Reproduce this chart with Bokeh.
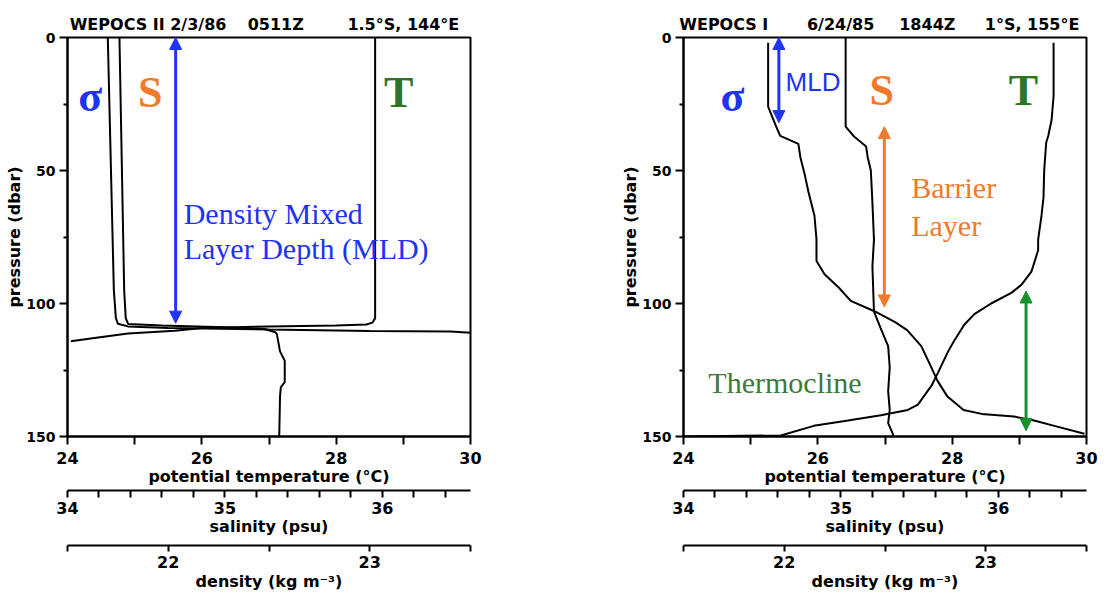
from bokeh.plotting import figure
from bokeh.models import Range1d, LinearAxis, FixedTicker, Label, Arrow, NormalHead, Title
from bokeh.layouts import row
from bokeh.embed import file_html
from bokeh.resources import INLINE

# ---------------- data: left panel (WEPOCS II 2/3/86) ----------------
L_T_temp = [28.58, 28.58, 28.58, 28.54, 28.45, 28.0, 27.0, 26.0, 25.6, 24.9, 24.4, 24.05]
L_T_pres = [0, 50, 105.5, 107.2, 107.9, 108.3, 108.6, 109.2, 110.2, 111.3, 113.0, 114.2]
L_S_sal = [34.33, 34.36, 34.37, 34.385, 34.6, 35.0, 35.25, 35.32, 35.33, 35.35, 35.38, 35.38, 35.355, 35.35, 35.345]
L_S_pres = [0, 95, 105.5, 107.7, 108.3, 108.9, 109.6, 110.8, 111.5, 118, 121.5, 129.5, 131.5, 135, 150]
L_D_dens = [21.70, 21.73, 21.74, 21.75, 21.80, 22.0, 22.5, 23.0, 23.4, 23.5]
L_D_pres = [0, 95, 105.5, 107.6, 108.6, 109.2, 109.8, 110.3, 110.5, 111.0]

# ---------------- data: right panel (WEPOCS I 6/24/85) ----------------
R_T_temp = [29.51, 29.51, 29.48, 29.43, 29.40, 29.37, 29.36, 29.33, 29.28, 29.28, 29.18, 29.03, 28.88,
            28.58, 28.33, 28.18, 28.03, 27.94, 27.79, 27.69, 27.49, 27.34, 26.94, 26.45, 25.94, 25.45, 24.0]
R_T_pres = [2, 22, 31, 37, 39.5, 50, 60, 67, 76, 80, 88, 93, 96,
            100, 104, 108, 114, 118, 126, 131, 138, 140, 142, 144, 146, 149.6, 150]
R_S_sal = [35.03, 35.03, 35.08, 35.16, 35.17, 35.19, 35.20, 35.21, 35.20, 35.21, 35.25, 35.30, 35.31,
           35.30, 35.31, 35.30, 35.33, 35.33]
R_S_pres = [0, 33.5, 37, 41, 45, 50, 62, 76, 86, 103, 109, 116, 124, 133, 140, 145, 149, 150]
R_D_dens = [21.92, 21.92, 21.96, 21.98, 22.07, 22.08, 22.10, 22.12, 22.15, 22.16, 22.16, 22.20, 22.27,
            22.33, 22.45, 22.55, 22.61, 22.68, 22.73, 22.76, 22.81, 22.89, 22.98, 23.14, 23.24, 23.34, 23.49]
R_D_pres = [2, 26, 33.5, 37, 40, 45, 51, 58, 67, 76, 84, 89, 94,
            99, 103, 107, 110, 116, 124, 129, 135, 140, 141.5, 142.5, 144, 146, 149]

# header texts (cruise, date, time, position)
L_HEADER = ["WEPOCS II 2/3/86", "0511Z", "1.5°S, 144°E"]
R_HEADER = ["WEPOCS I", "6/24/85", "1844Z", "1°S, 155°E"]
L_HEADER_AT = [25.2, 27.1, 29.0]
R_HEADER_AT = [24.6, 26.34, 27.63, 29.19]

# axis ranges / ticks
TEMP_RANGE = (24, 30)
SAL_RANGE = (34, 36.56)
DENS_RANGE = (21.5, 23.5)
PRES_RANGE = (150, 0)
TEMP_TICKS = [24, 26, 28, 30]
TEMP_MINOR = [25, 27, 29]
SAL_TICKS = [34, 35, 36]
SAL_MINOR = [34.2, 34.4, 34.6, 34.8, 35.2, 35.4, 35.6, 35.8, 36.2, 36.4]
DENS_TICKS = [22, 23]
DENS_MINOR = [21.5, 22.5, 23.5]
PRES_TICKS = [0, 50, 100, 150]
PRES_MINOR = [25, 75, 125]

BLUE = "#1f33f2"
ORANGE = "#f07a2a"
GREEN_T = "#2e7426"
GREEN_ARROW = "#17912a"
GREEN_TXT = "#3f7a38"
SANS = "DejaVu Sans"
SERIF = "Liberation Serif"


def style_axis(ax, tick_out, standoff, title_standoff):
    ax.axis_line_width = 2
    ax.axis_line_color = "black"
    ax.major_tick_out = tick_out
    ax.major_tick_in = 0
    ax.minor_tick_out = tick_out
    ax.minor_tick_in = 0
    ax.major_tick_line_width = 2
    ax.minor_tick_line_width = 2
    ax.major_label_standoff = standoff
    ax.major_label_text_font = SANS
    ax.major_label_text_font_style = "bold"
    ax.major_label_text_font_size = "16px"
    ax.major_label_text_color = "black"
    ax.axis_label_standoff = title_standoff
    ax.axis_label_text_font = SANS
    ax.axis_label_text_font_style = "bold"
    ax.axis_label_text_font_size = "16px"
    ax.axis_label_text_color = "black"


def spacer(size):
    # an invisible axis used only to leave a gap between the stacked scales
    sp = LinearAxis(ticker=FixedTicker(ticks=[27], minor_ticks=[]), axis_label=None)
    sp.axis_line_color = None
    sp.major_tick_line_alpha = 0
    sp.major_tick_out = size
    sp.major_tick_in = 0
    sp.minor_tick_out = 0
    sp.minor_tick_in = 0
    sp.major_label_standoff = 0
    sp.major_label_text_font_size = "1px"
    sp.major_label_text_alpha = 0
    return sp


def make_panel(border_left, border_right, header, header_at):
    p = figure(width=border_left + 403 + border_right, height=594,
               x_range=Range1d(*TEMP_RANGE), y_range=Range1d(*PRES_RANGE),
               output_backend="svg", toolbar_location=None,
               min_border_left=border_left, min_border_right=border_right,
               min_border_top=37, min_border_bottom=158)
    p.extra_x_ranges = {"sal": Range1d(*SAL_RANGE), "dens": Range1d(*DENS_RANGE)}
    p.xgrid.visible = False
    p.ygrid.visible = False
    p.outline_line_color = "black"
    p.outline_line_width = 2
    p.outline_line_alpha = 1
    p.background_fill_color = "white"
    p.border_fill_color = "white"

    xa = p.below[0]
    ya = p.left[0]

    # header line above the frame
    top = LinearAxis(ticker=FixedTicker(ticks=header_at),
                     major_label_overrides=dict(zip(header_at, header)))
    top.axis_line_color = None
    top.major_tick_line_color = None
    top.minor_tick_line_color = None
    top.major_tick_out = 0
    top.major_tick_in = 0
    top.major_label_standoff = 4
    top.major_label_text_font = SANS
    top.major_label_text_font_style = "bold"
    top.major_label_text_font_size = "16px"
    top.major_label_text_color = "black"
    p.add_layout(top, "above")

    xa.ticker = FixedTicker(ticks=TEMP_TICKS, minor_ticks=TEMP_MINOR)
    xa.axis_label = "potential temperature (°C)"
    style_axis(xa, 8, 7, 0)

    ya.ticker = FixedTicker(ticks=PRES_TICKS, minor_ticks=PRES_MINOR)
    style_axis(ya, 8, 4, 0)
    ya.minor_tick_out = 4
    ya.major_label_text_font_size = "14px"

    p.add_layout(spacer(2), "below")
    sa = LinearAxis(x_range_name="sal", axis_label="salinity (psu)",
                    ticker=FixedTicker(ticks=SAL_TICKS, minor_ticks=SAL_MINOR))
    style_axis(sa, 7, 4, 0)
    p.add_layout(sa, "below")
    p.add_layout(spacer(7), "below")
    da = LinearAxis(x_range_name="dens", axis_label="density (kg m⁻³)",
                    ticker=FixedTicker(ticks=DENS_TICKS, minor_ticks=DENS_MINOR))
    style_axis(da, 6, 4, 1)
    p.add_layout(da, "below")

    p.add_layout(Title(text="pressure (dbar)", align="center", offset=49, standoff=0,
                       text_font=SANS, text_font_style="bold", text_font_size="16px",
                       text_color="black"), "left")
    return p


def txt(p, x, y, s, color, font, size, style="normal", align="left"):
    p.add_layout(Label(x=x, y=y, text=s, text_color=color, text_font=font,
                       text_font_size=size, text_font_style=style,
                       text_align=align, text_baseline="middle"))


def arrow(p, x, y0, y1, color):
    p.add_layout(Arrow(x_start=x, y_start=y0, x_end=x, y_end=y1,
                       line_color=color, line_width=3,
                       start=NormalHead(size=12, fill_color=color, line_color=color),
                       end=NormalHead(size=12, fill_color=color, line_color=color)))


# ---------------- left panel ----------------
p1 = make_panel(67, 82, L_HEADER, L_HEADER_AT)
p1.line(L_T_temp, L_T_pres, line_color="black", line_width=2)
p1.line(L_S_sal, L_S_pres, line_color="black", line_width=2, x_range_name="sal")
p1.line(L_D_dens, L_D_pres, line_color="black", line_width=2, x_range_name="dens")
arrow(p1, 25.61, 0, 107.4, BLUE)
txt(p1, 24.34, 22, "σ", BLUE, SERIF, "44px", "bold", "center")
txt(p1, 25.23, 20.5, "S", ORANGE, SERIF, "44px", "bold", "center")
txt(p1, 28.93, 20.5, "T", GREEN_T, SERIF, "44px", "bold", "center")
txt(p1, 25.73, 66, "Density Mixed", BLUE, SERIF, "30px")
txt(p1, 25.73, 79.5, "Layer Depth (MLD)", BLUE, SERIF, "30px")

# ---------------- right panel ----------------
p2 = make_panel(131, 18, R_HEADER, R_HEADER_AT)
p2.line(R_T_temp, R_T_pres, line_color="black", line_width=2)
p2.line(R_S_sal, R_S_pres, line_color="black", line_width=2, x_range_name="sal")
p2.line(R_D_dens, R_D_pres, line_color="black", line_width=2, x_range_name="dens")
arrow(p2, 25.42, 0, 32, BLUE)
arrow(p2, 26.99, 33.5, 101.3, ORANGE)
arrow(p2, 29.10, 95.3, 147.8, GREEN_ARROW)
txt(p2, 24.73, 22, "σ", BLUE, SERIF, "44px", "bold", "center")
txt(p2, 26.95, 20, "S", ORANGE, SERIF, "44px", "bold", "center")
txt(p2, 29.06, 20, "T", GREEN_T, SERIF, "44px", "bold", "center")
txt(p2, 25.52, 16.7, "MLD", BLUE, "Liberation Sans", "26px")
txt(p2, 27.39, 56.4, "Barrier", ORANGE, SERIF, "30px")
txt(p2, 27.39, 70.6, "Layer", ORANGE, SERIF, "30px")
txt(p2, 24.37, 129.8, "Thermocline", GREEN_TXT, SERIF, "30px")

layout = row(p1, p2, spacing=0)
open("out.html", "w").write(file_html(layout, INLINE))
